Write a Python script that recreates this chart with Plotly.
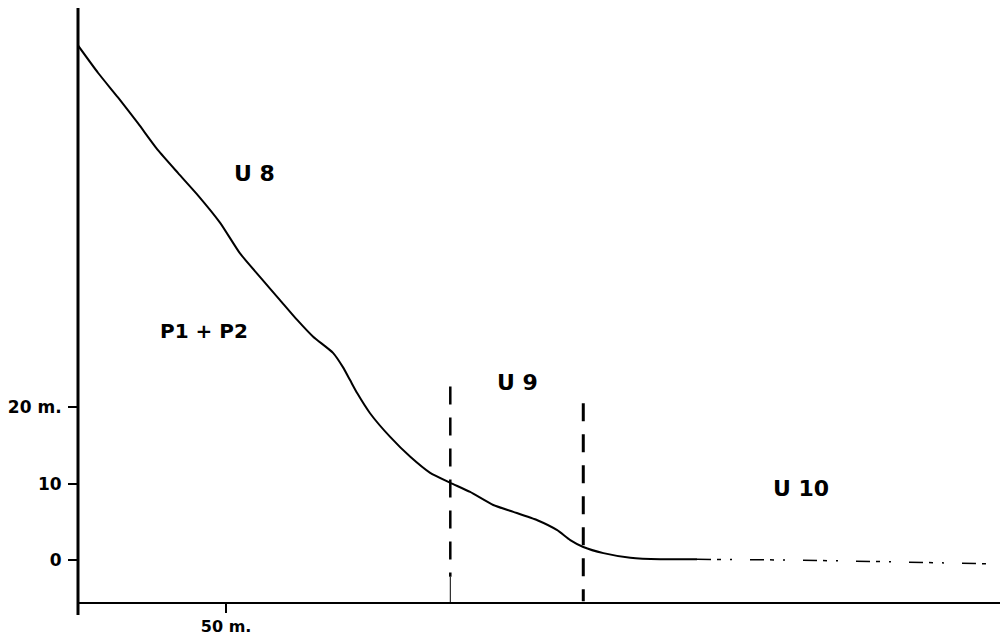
import plotly.graph_objects as go

# Profile curve (distance in m, elevation in m)
profile_x = [0, 6.8, 13.5, 20.3, 27.0, 33.8, 40.5, 48.0, 54.7, 61.5, 68.2, 74.0, 79.4,
             86.1, 89.5, 91.9, 94.3, 98.6, 105.4, 112.2, 118.9, 125.7, 132.4, 140.2,
             147.0, 155.1, 161.8, 166.2, 170.6, 177.4, 186.5, 196.6, 209.0]
profile_y = [67.3, 63.7, 60.5, 57.1, 53.6, 50.6, 47.7, 44.1, 40.1, 37.0, 34.0, 31.4, 29.2,
             27.1, 25.2, 23.5, 21.8, 19.2, 16.1, 13.5, 11.4, 10.1, 8.9, 7.2,
             6.3, 5.2, 3.9, 2.6, 1.7, 0.9, 0.3, 0.1, 0.1]
# faint broken tail of the profile
tail_x = [209.0, 240.0, 270.0, 300.0, 308.0]
tail_y = [0.1, 0.0, -0.2, -0.4, -0.5]

# unit boundaries (dashed verticals)
boundary_x = [125.7, 170.6]
boundary_top = [22.7, 20.5]
boundary_dash_bottom = [-2.2, -5.4]

# labels
label_text = ["<b>U 8</b>", "<b>P1 + P2</b>", "<b>U 9</b>", "<b>U 10</b>"]
label_x = [59.5, 42.5, 148.3, 244.0]
label_y = [50.5, 30.0, 23.2, 9.4]

y_tickvals = [0, 10, 20]
y_ticktext = ["<b>0</b>", "<b>10</b>", "<b>20 m.</b>"]
x_tickvals = [50]
x_ticktext = ["<b>50 m.</b>"]

FONT = "DejaVu Sans"

fig = go.Figure()

fig.add_trace(go.Scatter(x=profile_x, y=profile_y, mode="lines",
                         line=dict(color="black", width=2, shape="spline", smoothing=0.5),
                         hoverinfo="skip", showlegend=False))
fig.add_trace(go.Scatter(x=tail_x, y=tail_y, mode="lines",
                         line=dict(color="black", width=1.5, dash="14px,6px,4px,9px,2px,18px"),
                         hoverinfo="skip", showlegend=False))

widths = [2.5, 3]
for bx, bt, bb, w in zip(boundary_x, boundary_top, boundary_dash_bottom, widths):
    fig.add_trace(go.Scatter(x=[bx, bx], y=[bt, bb], mode="lines",
                             line=dict(color="black", width=w, dash="18px,13px"),
                             hoverinfo="skip", showlegend=False))
# thin solid stub under the first boundary
fig.add_trace(go.Scatter(x=[boundary_x[0], boundary_x[0]], y=[boundary_dash_bottom[0], -5.49],
                         mode="lines", line=dict(color="black", width=1),
                         hoverinfo="skip", showlegend=False))

for t, x, y in zip(label_text, label_x, label_y):
    size = 20 if "P1" in t else 22
    fig.add_annotation(x=x, y=y, text=t, showarrow=False,
                       font=dict(family=FONT, size=size, color="black"))

# vertical axis line extending a little below the x axis
fig.add_shape(type="line", xref="paper", yref="paper", x0=0, x1=0, y0=-0.022, y1=1,
              line=dict(color="black", width=3))

fig.update_xaxes(range=[0, 314], showgrid=False, zeroline=False,
                 showline=True, linecolor="black", linewidth=2,
                 ticks="outside", ticklen=9, tickwidth=2, tickcolor="black",
                 tickvals=x_tickvals, ticktext=x_ticktext,
                 tickfont=dict(family=FONT, size=16, color="black"))
fig.update_yaxes(range=[-5.49, 72.2], showgrid=False, zeroline=False, showline=False,
                 ticks="outside", ticklen=9, tickwidth=2, tickcolor="black",
                 tickvals=y_tickvals, ticktext=y_ticktext, ticklabelstandoff=3,
                 tickfont=dict(family=FONT, size=17, color="black"))

# the page adds an 8px body margin, so the figure is sized to the visible area
fig.update_layout(width=1000, height=635, margin=dict(l=70, r=0, t=0, b=41, autoexpand=False),
                  plot_bgcolor="white", paper_bgcolor="white",
                  font=dict(family=FONT, color="black"))

fig.write_html("out.html")
